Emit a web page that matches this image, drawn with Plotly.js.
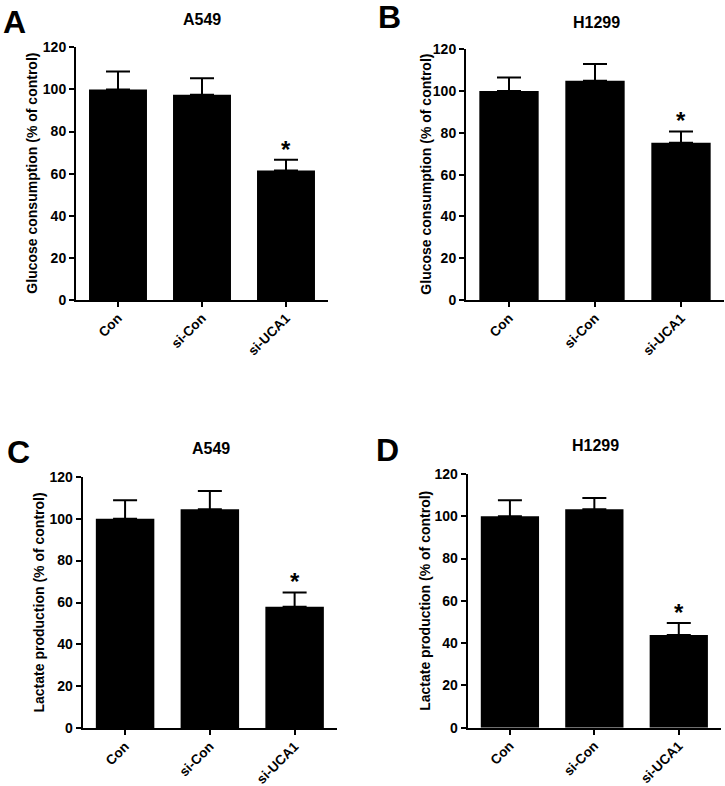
<!DOCTYPE html>
<html>
<head>
<meta charset="utf-8">
<script src="https://cdn.plot.ly/plotly-3.0.1.min.js"></script>
<style>html,body{margin:0;padding:0;background:#fff;}#chart{width:725px;height:786px;}</style>
</head>
<body>
<div id="chart"></div>
<script>
const categories = ['Con', 'si-Con', 'si-UCA1'];
const yTicks = [0, 20, 40, 60, 80, 100, 120];

const glucoseA549 = [100, 97.5, 61.5];
const glucoseA549Err = [8.5, 7.8, 5.1];
const glucoseH1299 = [100, 105, 75.3];
const glucoseH1299Err = [6.5, 8, 5.4];
const lactateA549 = [100, 104.5, 58];
const lactateA549Err = [8.8, 8.7, 6.8];
const lactateH1299 = [100, 103.3, 43.8];
const lactateH1299Err = [7.6, 5.4, 5.7];
const significant = [false, false, true];

const panelLetters = ['A', 'B', 'C', 'D'];
const panelTitles = ['A549', 'H1299', 'A549', 'H1299'];
const yTitles = ['Glucose consumption (% of control)', 'Glucose consumption (% of control)',
                 'Lactate production (% of control)', 'Lactate production (% of control)'];

const W = 725, H = 786;
const FONT = 'Liberation Sans, Arial, Helvetica, sans-serif';

// pixel boxes of the plot areas [left, right, top, bottom]
const boxes = [
  [76, 328, 47.3, 300],
  [466, 724, 49.3, 300],
  [82.7, 337, 476.7, 728.3],
  [467.7, 721, 474, 727.7]
];
const titlePos = [[202, 19], [596, 23], [211, 448], [595, 445]];
const letterPos = [[14.5, 22], [389.5, 17], [18.5, 452], [387.5, 450]];
const yTitleX = [32, 426, 38, 425];

const series = [
  [glucoseA549, glucoseA549Err],
  [glucoseH1299, glucoseH1299Err],
  [lactateA549, lactateA549Err],
  [lactateH1299, lactateH1299Err]
];

const data = [];
const layout = {
  width: W, height: H,
  margin: {l: 0, r: 0, t: 0, b: 0},
  paper_bgcolor: '#fff', plot_bgcolor: '#fff',
  showlegend: false,
  bargap: 0.31,
  font: {family: FONT, color: '#000', size: 14, weight: 'bold'},
  annotations: []
};

series.forEach((s, i) => {
  const n = i === 0 ? '' : String(i + 1);
  const b = boxes[i];
  data.push({
    type: 'bar',
    x: categories, y: s[0],
    xaxis: 'x' + n, yaxis: 'y' + n,
    marker: {color: '#000', line: {width: 0}},
    error_y: {type: 'data', array: s[1], arrayminus: s[1].map(() => 0), symmetric: false,
              color: '#000', thickness: 2, width: 12},
    hoverinfo: 'skip'
  });
  layout['xaxis' + n] = {
    domain: [b[0] / W, b[1] / W],
    anchor: 'y' + n,
    range: [-0.5, 2.5],
    showline: true, linecolor: '#000', linewidth: 2,
    ticks: 'outside', ticklen: 5, tickwidth: 2, tickcolor: '#000',
    tickangle: -45, ticklabelstandoff: -2,
    tickfont: {family: FONT, size: 13.5, weight: 'bold', color: '#000'},
    showgrid: false, zeroline: false, fixedrange: true
  };
  layout['yaxis' + n] = {
    domain: [1 - b[3] / H, 1 - b[2] / H],
    anchor: 'x' + n,
    range: [0, 120],
    tickvals: yTicks,
    showline: true, linecolor: '#000', linewidth: 2,
    ticks: 'outside', ticklen: 5, tickwidth: 2, tickcolor: '#000',
    tickfont: {family: FONT, size: 14, weight: 'bold', color: '#000'},
    showgrid: false, zeroline: false, fixedrange: true
  };
  // significance stars
  s[0].forEach((v, j) => {
    if (significant[j]) {
      layout.annotations.push({
        xref: 'x' + n, yref: 'y' + n, x: categories[j], y: v + s[1][j],
        text: '*', showarrow: false, yanchor: 'bottom', yshift: -5,
        font: {family: FONT, size: 24, weight: 'bold', color: '#000'}
      });
    }
  });
  // panel title
  layout.annotations.push({
    xref: 'paper', yref: 'paper', x: titlePos[i][0] / W, y: 1 - titlePos[i][1] / H,
    xanchor: 'center', yanchor: 'middle', showarrow: false,
    text: panelTitles[i], font: {family: FONT, size: 16, weight: 'bold', color: '#000'}
  });
  // panel letter
  layout.annotations.push({
    xref: 'paper', yref: 'paper', x: letterPos[i][0] / W, y: 1 - letterPos[i][1] / H,
    xanchor: 'center', yanchor: 'middle', showarrow: false,
    text: panelLetters[i], font: {family: FONT, size: 32, weight: 'bold', color: '#000'}
  });
  // y-axis title
  layout.annotations.push({
    xref: 'paper', yref: 'paper', x: yTitleX[i] / W, y: 1 - ((b[2] + b[3]) / 2) / H,
    xanchor: 'center', yanchor: 'middle', showarrow: false, textangle: -90,
    text: yTitles[i], font: {family: FONT, size: 14, weight: 'bold', color: '#000'}
  });
});

Plotly.newPlot('chart', data, layout, {staticPlot: true, displayModeBar: false});
</script>
</body>
</html>
